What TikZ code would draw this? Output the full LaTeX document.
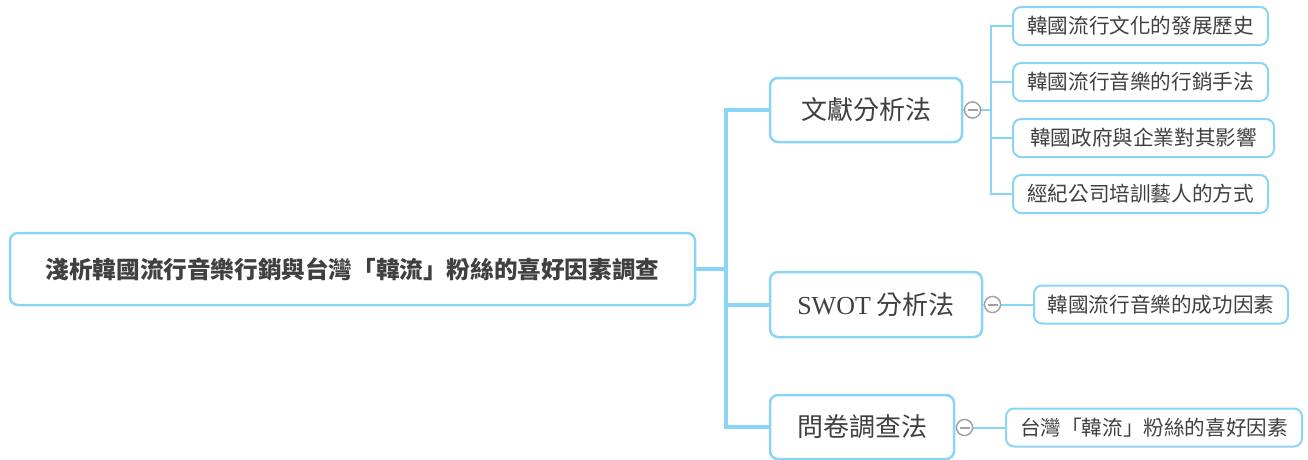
\documentclass[tikz,border=0pt]{standalone}
\usepackage{fontspec}
\setmainfont{Noto Sans CJK TC}
\newfontfamily\latinserif{Liberation Serif}
\definecolor{linecol}{HTML}{8AD4F6}
\definecolor{txt}{HTML}{404040}
\definecolor{circ}{HTML}{A0A0A0}
\begin{document}
\begin{tikzpicture}[x=1pt,y=-1pt,
  box/.style={draw=linecol, rounded corners=8pt, fill=white, text=txt, inner sep=0pt},
  rootbox/.style={box, line width=2.5pt, minimum width=685pt, minimum height=72pt, font=\fontsize{23.6}{28}\selectfont\bfseries},
  branchbox/.style={box, line width=2.5pt, minimum height=64pt, font=\fontsize{26}{31}\selectfont},
  leafbox/.style={box, line width=2pt, minimum height=38pt, font=\fontsize{20.6}{25}\selectfont},
  toggle/.style={circle, draw=circ, fill=white, line width=1.3pt, minimum size=16pt, inner sep=0pt,
    path picture={\draw[circ, line width=2pt] ([xshift=3pt]path picture bounding box.west) -- ([xshift=-3pt]path picture bounding box.east);}},
  mainline/.style={draw=linecol, line width=4pt},
  subline/.style={draw=linecol, line width=2pt},
]
\useasboundingbox (0,0) rectangle (1308,459);

% nodes
\node[rootbox] (root) at (352.5,269) {淺析韓國流行音樂行銷與台灣「韓流」粉絲的喜好因素調查};

\node[branchbox, minimum width=192pt] (b1) at (866,110) {文獻分析法};
\node[branchbox, minimum width=212pt, minimum height=65pt] (b2) at (876,304.5) {{\latinserif SWOT} 分析法};
\node[branchbox, minimum width=184pt] (b3) at (862,427) {問卷調查法};

\node[toggle] (c1) at (972.5,110) {};
\node[toggle] (c2) at (992.5,304.5) {};
\node[toggle] (c3) at (964.5,427.5) {};

\node[leafbox, minimum width=255pt] (l1) at (1140.5,26) {韓國流行文化的發展歷史};
\node[leafbox, minimum width=255pt] (l2) at (1140.5,82) {韓國流行音樂的行銷手法};
\node[leafbox, minimum width=261pt] (l3) at (1143.5,138) {韓國政府與企業對其影響};
\node[leafbox, minimum width=255pt] (l4) at (1140.5,194) {經紀公司培訓藝人的方式};
\node[leafbox, minimum width=254pt] (l5) at (1161,304.5) {韓國流行音樂的成功因素};
\node[leafbox, minimum width=296pt] (l6) at (1154,427.5) {台灣「韓流」粉絲的喜好因素};

% main connectors
\path (root.east) ++(30,0) coordinate (J);
\path[mainline] (root.east) -- (J);
\path[mainline] (J) |- (b1.west);
\path[mainline] (J) |- (b2.west);
\path[mainline] (J) |- (b3.west);

% sub connectors
\draw[subline] (b1.east) -- (c1.west);
\path (c1.east) ++(10,0) coordinate (K);
\draw[subline] (c1.east) -- (K);
\draw[subline] (K) |- (l1.west);
\draw[subline] (K) |- (l2.west);
\draw[subline] (K) |- (l3.west);
\draw[subline] (K) |- (l4.west);

\draw[subline] (b2.east) -- (c2.west);
\draw[subline] (c2.east) -- (l5.west);
\draw[subline] (b3.east) -- (c3.west);
\draw[subline] (c3.east) -- (l6.west);

% redraw toggles on top
\node[toggle] at (c1) {};
\node[toggle] at (c2) {};
\node[toggle] at (c3) {};
\end{tikzpicture}
\end{document}
